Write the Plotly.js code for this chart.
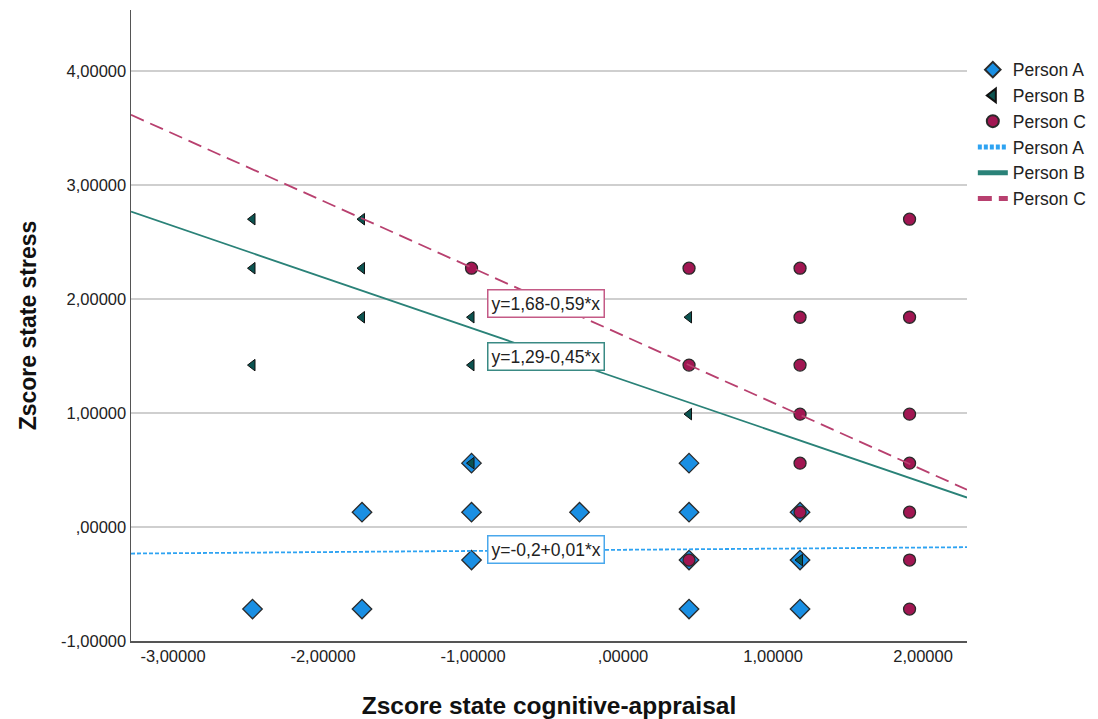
<!DOCTYPE html>
<html>
<head>
<meta charset="utf-8">
<script src="https://cdn.plot.ly/plotly-3.0.1.min.js"></script>
<style>html,body{margin:0;padding:0;background:#fff;}#chart{width:1098px;height:719px;}</style>
</head>
<body>
<div id="chart"></div>
<script>
// ---- data ----
const seriesNames = ["Person A", "Person B", "Person C"];

const personA_x = [-2.47, -1.74, -1.74, -1.01, -1.01, -1.01, -0.29, 0.44, 0.44, 0.44, 0.44, 1.18, 1.18, 1.18];
const personA_y = [-0.72, 0.13, -0.72, 0.56, 0.13, -0.29, 0.13, 0.56, 0.13, -0.29, -0.72, 0.13, -0.29, -0.72];

const personB_x = [-2.47, -2.47, -2.47, -1.74, -1.74, -1.74, -1.01, -1.01, -1.01, 0.44, 0.44, 1.18];
const personB_y = [2.70, 2.27, 1.42, 2.70, 2.27, 1.84, 1.84, 1.42, 0.56, 1.84, 0.99, -0.29];

const personC_x = [-1.01, 0.44, 0.44, 0.44, 1.18, 1.18, 1.18, 1.18, 1.18, 1.18, 1.91, 1.91, 1.91, 1.91, 1.91, 1.91, 1.91];
const personC_y = [2.27, 2.27, 1.42, -0.29, 2.27, 1.84, 1.42, 0.99, 0.56, 0.13, 2.70, 1.84, 0.99, 0.56, 0.13, -0.29, -0.72];

// fit lines (intercept, slope) as printed on the chart
const fitIntercepts = [-0.2, 1.29, 1.68];
const fitSlopes = [0.01, -0.45, -0.59];
const fitLabels = ["y=-0,2+0,01*x", "y=1,29-0,45*x", "y=1,68-0,59*x"];

const xTickVals = [-3, -2, -1, 0, 1, 2];
const xTickText = ["-3,00000", "-2,00000", "-1,00000", ",00000", "1,00000", "2,00000"];
const yTickVals = [-1, 0, 1, 2, 3, 4];
const yTickText = ["-1,00000", ",00000", "1,00000", "2,00000", "3,00000", "4,00000"];

const xAxisTitle = "Zscore state cognitive-appraisal";
const yAxisTitle = "Zscore state stress";

// ---- styling ----
const xRange = [-3.28, 2.293];
const yRange = [-1, 4.535];
const markerColors = ["#1a8fe3", "#0b5350", "#a11652"];
const lineColors = ["#2ea3f2", "#2a8278", "#b8406f"];
const lineDash = ["4px,2px", "solid", "14px,7px"];
const boxColors = ["#4aa8ec", "#3a8a84", "#c45a86"];
const labelY = [-0.20, 1.50, 1.96];

const traces = [
  {x: personA_x, y: personA_y, name: seriesNames[0], type: "scatter", mode: "markers",
   marker: {symbol: "diamond", size: 15, color: markerColors[0], line: {color: "#2a2a2a", width: 1.3}}},
  {x: personB_x, y: personB_y, name: seriesNames[1], type: "scatter", mode: "markers",
   marker: {symbol: "triangle-left", size: 10, color: markerColors[1], line: {color: "#111", width: 1}}},
  {x: personC_x, y: personC_y, name: seriesNames[2], type: "scatter", mode: "markers",
   marker: {symbol: "circle", size: 12, color: markerColors[2], line: {color: "#2a2a2a", width: 1.3}}}
];

for (let i = 0; i < 3; i++) {
  traces.push({
    x: xRange,
    y: xRange.map(v => fitIntercepts[i] + fitSlopes[i] * v),
    name: seriesNames[i], type: "scatter", mode: "lines",
    line: {color: lineColors[i], width: 1.8, dash: lineDash[i]},
    hoverinfo: "skip"
  });
}

const annotations = fitLabels.map((t, i) => ({
  x: -0.905, y: labelY[i], xref: "x", yref: "y", text: t, showarrow: false,
  xanchor: "left", yanchor: "middle",
  font: {family: "Liberation Sans, Arial, sans-serif", size: 17.5, color: "#222"},
  bgcolor: "#ffffff", bordercolor: boxColors[i], borderwidth: 1.5, borderpad: 3
}));

const layout = {
  width: 1098, height: 719,
  margin: {l: 131, r: 131, t: 10, b: 78},
  paper_bgcolor: "#ffffff", plot_bgcolor: "#ffffff",
  font: {family: "Liberation Sans, Arial, sans-serif", color: "#222"},
  showlegend: true,
  legend: {xref: "container", yref: "container", x: 0.886, y: 0.928, xanchor: "left", yanchor: "top",
    font: {size: 17.5, color: "#222"}, itemsizing: "constant", tracegroupgap: 0,
    bgcolor: "rgba(0,0,0,0)"},
  xaxis: {
    range: xRange, showgrid: false, zeroline: false,
    showline: true, linecolor: "#555", linewidth: 1.5, mirror: false,
    tickvals: xTickVals, ticktext: xTickText, ticks: "",
    tickfont: {size: 16.5, color: "#222"},
    title: {text: xAxisTitle, font: {size: 24.5, color: "#111", weight: "bold"}, standoff: 32}
  },
  yaxis: {
    range: yRange, showgrid: true, gridcolor: "#cfcfcf", gridwidth: 2, zeroline: false,
    showline: true, linecolor: "#555", linewidth: 1.5,
    tickvals: yTickVals, ticktext: yTickText, ticks: "",
    tickfont: {size: 16.5, color: "#222"},
    title: {text: yAxisTitle, font: {size: 23, color: "#111", weight: "bold"}, standoff: 18}
  },
  annotations: annotations
};

Plotly.newPlot("chart", traces, layout, {displayModeBar: false, staticPlot: true});
</script>
</body>
</html>
